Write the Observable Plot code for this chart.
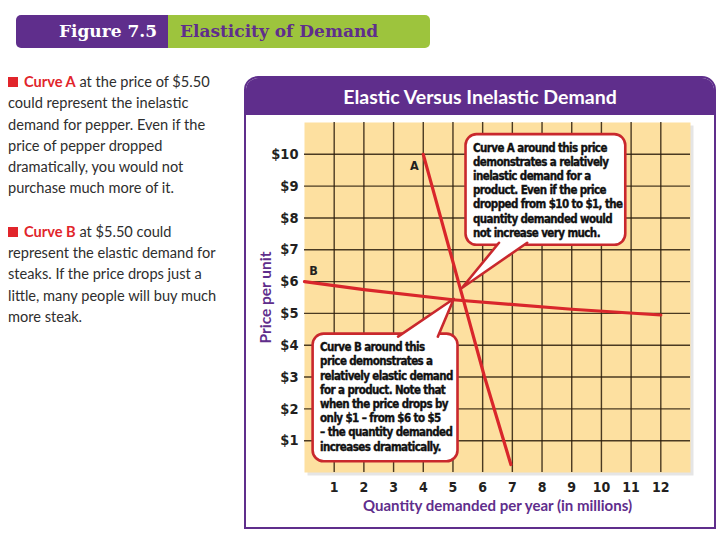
<!DOCTYPE html>
<html>
<head>
<meta charset="utf-8">
<script src="https://cdn.jsdelivr.net/npm/d3@7"></script>
<script src="https://cdn.jsdelivr.net/npm/@observablehq/plot@0.6"></script>
<style>
  html, body { margin: 0; padding: 0; }
  body { width: 720px; height: 540px; background: #fff; position: relative; overflow: hidden; font-family: Lato, "Open Sans", sans-serif; }
  #hdr { position: absolute; left: 16px; top: 15px; height: 33px; display: flex; border-radius: 5px; overflow: hidden; font-family: "DejaVu Serif", serif; font-weight: bold; font-size: 17px; }
  #hdr .fig { background: #5f2e8c; color: #fff; width: 152px; box-sizing: border-box; text-align: right; padding-right: 11px; line-height: 33px; }
  #hdr .ttl { background: #9dc43d; color: #5f2e8c; width: 262px; box-sizing: border-box; padding-left: 12px; line-height: 33px; }
  #side { position: absolute; left: 8px; top: 71px; font-size: 14.6px; line-height: 21.3px; color: #2e2e2e; white-space: nowrap; }
  #side p { margin: 0 0 22px 0; }
  #side .sq { display: inline-block; width: 10px; height: 10px; background: #e1252b; margin-right: 6px; vertical-align: 0px; }
  #side b { color: #e1252b; font-weight: 700; }
  #panel { position: absolute; left: 244px; top: 76px; width: 468px; height: 449px; border: 2px solid #5f2e8c; border-radius: 14px 14px 0 0; overflow: hidden; }
  #panel .band { position: absolute; left: 0; top: 0; right: 0; height: 37px; background: #5f2e8c; color: #fff; text-align: center; font-weight: 700; font-size: 19.5px; line-height: 38px; }
  #chart { position: absolute; left: 245px; top: 116px; }
  #chart text:has(> tspan) { letter-spacing: -0.6px; }
</style>
</head>
<body>
<div id="hdr"><div class="fig">Figure 7.5</div><div class="ttl">Elasticity of Demand</div></div>
<div id="side">
  <p><span class="sq"></span><b>Curve A</b> at the price of $5.50<br>could represent the inelastic<br>demand for pepper. Even if the<br>price of pepper dropped<br>dramatically, you would not<br>purchase much more of it.</p>
  <p><span class="sq"></span><b>Curve B</b> at $5.50 could<br>represent the elastic demand for<br>steaks. If the price drops just a<br>little, many people will buy much<br>more steak.</p>
</div>
<div id="panel"><div class="band">Elastic Versus Inelastic Demand</div></div>
<div id="chart"></div>
<script>
// ---- data ----
const quantityTicks = [1, 2, 3, 4, 5, 6, 7, 8, 9, 10, 11, 12];
const priceTicks = [1, 2, 3, 4, 5, 6, 7, 8, 9, 10];
// Curve A (inelastic): quantity, price
const curveAQty   = [4, 5.3, 6.05, 6.95];
const curveAPrice = [10, 5.6, 3.05, 0.25];
// Curve B (elastic): quantity, price
const curveBQty   = [0, 2, 5, 9, 12];
const curveBPrice = [6, 5.75, 5.43, 5.13, 4.95];

const calloutAText = "Curve A around this price\ndemonstrates a relatively\ninelastic demand for a\nproduct. Even if the price\ndropped from $10 to $1, the\nquantity demanded would\nnot increase very much.";
const calloutBText = "Curve B around this\nprice demonstrates a\nrelatively elastic demand\nfor a product. Note that\nwhen the price drops by\nonly $1 – from $6 to $5\n– the quantity demanded\nincreases dramatically.";
// callout boxes in data units: [x1, x2, y1, y2]
const calloutABox = [5.44, 10.82, 7.14, 10.62];
const calloutBBox = [0.29, 5.17, 0.34, 4.35];
// callout pointer tails: [base-left, tip, base-right] as [qty, price]
const calloutATail = [[6.55, 7.22], [5.3, 5.8], [7.5, 7.22]];
const calloutBTail = [[3.15, 4.27], [5.03, 5.46], [4.49, 4.27]];

// ---- build tables ----
const curveA = curveAQty.map((q, i) => ({q, p: curveAPrice[i]}));
const curveB = curveBQty.map((q, i) => ({q, p: curveBPrice[i]}));
const boxes = [
  {x1: calloutABox[0], x2: calloutABox[1], y1: calloutABox[2], y2: calloutABox[3], text: calloutAText},
  {x1: calloutBBox[0], x2: calloutBBox[1], y1: calloutBBox[2], y2: calloutBBox[3], text: calloutBText}
];
const tailA = calloutATail.map(([q, p]) => ({q, p}));
const tailB = calloutBTail.map(([q, p]) => ({q, p}));

const RED = "#d9262b";
const BOXRED = "#c9282d";
const PURPLE = "#5f2e8c";
const GRID = "#2a1c0c";
const NARROW = "'Liberation Sans Narrow', 'DejaVu Sans Condensed', 'Arial Narrow', sans-serif";

const plot = Plot.plot({
  width: 469,
  height: 411,
  marginLeft: 59,
  marginRight: 24,
  marginTop: 6,
  marginBottom: 55,
  x: {domain: [0, 13]},
  y: {domain: [0, 11]},
  style: {background: "transparent", overflow: "visible", color: "#231f20"},
  marks: [
    Plot.frame({fill: "#000", fillOpacity: 0.10, stroke: null, dx: 3, dy: 3}),
    Plot.frame({fill: "#fde0a0", stroke: null}),
    Plot.gridX(quantityTicks, {stroke: GRID, strokeOpacity: 0.85, strokeWidth: 1.4}),
    Plot.gridY(priceTicks, {stroke: GRID, strokeOpacity: 0.85, strokeWidth: 1.4}),
    Plot.axisX(quantityTicks, {tickSize: 0, tickPadding: 10, label: null, tickFormat: d => String(d), fontSize: 14, fontWeight: "bold", fontFamily: NARROW}),
    Plot.axisY(priceTicks, {tickSize: 0, tickPadding: 6, label: null, tickFormat: d => "$" + d, fontSize: 14.5, fontWeight: "bold", fontFamily: NARROW}),
    Plot.line(curveA, {x: "q", y: "p", stroke: RED, strokeWidth: 3.2, strokeLinecap: "round"}),
    Plot.line(curveB, {x: "q", y: "p", stroke: RED, strokeWidth: 3.2, strokeLinecap: "round"}),
    Plot.text(curveA.slice(0, 1), {x: "q", y: "p", text: () => "A", dx: -9, dy: 12, fontSize: 12.5, fontWeight: "bold", fontFamily: NARROW, fill: "#231f20"}),
    Plot.text(curveB.slice(0, 1), {x: "q", y: "p", text: () => "B", dx: 9, dy: -11, fontSize: 12.5, fontWeight: "bold", fontFamily: NARROW, fill: "#231f20"}),
    Plot.rect(boxes, {x1: "x1", x2: "x2", y1: "y1", y2: "y2", fill: "white", stroke: BOXRED, strokeWidth: 2.6, rx: 11}),
    Plot.line(tailA, {x: "q", y: "p", fill: "white", stroke: BOXRED, strokeWidth: 2.6, strokeLinejoin: "round"}),
    Plot.line(tailB, {x: "q", y: "p", fill: "white", stroke: BOXRED, strokeWidth: 2.6, strokeLinejoin: "round"}),
    Plot.text(boxes, {x: "x1", y: "y2", text: "text", dx: 7, dy: 7, textAnchor: "start", lineAnchor: "top", lineHeight: 1.235, fontSize: 11.5, fontWeight: "bold", fontFamily: NARROW, fill: "#111", stroke: "#111", strokeWidth: 0.35}),
    Plot.text(["Price per unit"], {text: d => d, x: 0, y: 5.5, dx: -38, rotate: -90, fill: PURPLE, fontSize: 15.5, fontWeight: "bold", fontFamily: "Lato, sans-serif"}),
    Plot.text(["Quantity demanded per year (in millions)"], {text: d => d, frameAnchor: "bottom", dy: 38, fill: PURPLE, fontSize: 15, fontWeight: "bold", fontFamily: "Lato, sans-serif"})
  ]
});
document.getElementById("chart").appendChild(plot);
</script>
</body>
</html>
